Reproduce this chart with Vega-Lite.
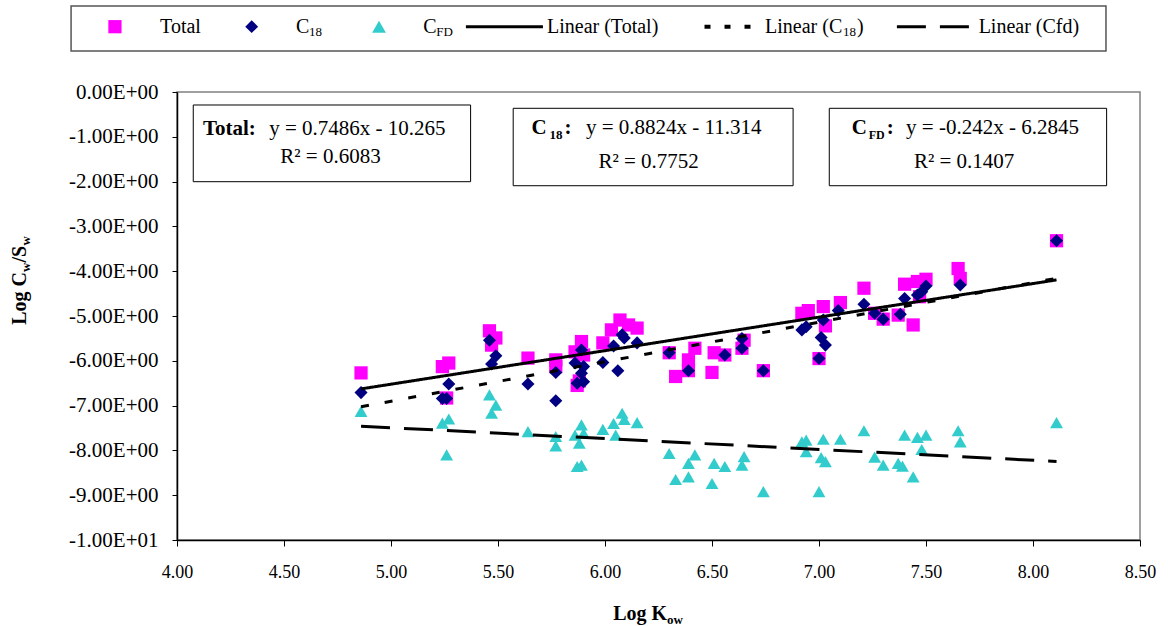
{
  "$schema": "https://vega.github.io/schema/vega-lite/v6.json",
  "width": 963,
  "height": 448,
  "autosize": {"type": "none"},
  "padding": {"left": 177, "top": 92, "right": 28, "bottom": 86},
  "background": "white",
  "config": {
    "view": {"stroke": "#808080", "strokeWidth": 1.5},
    "font": "Liberation Serif",
    "text": {"font": "Liberation Serif", "color": "black"}
  },
  "datasets": {
    "points": [
      {"series": "Total", "logKow": 4.86, "logCwSw": -6.27},
      {"series": "Total", "logKow": 5.24, "logCwSw": -6.13},
      {"series": "Total", "logKow": 5.27, "logCwSw": -6.05},
      {"series": "Total", "logKow": 5.26, "logCwSw": -6.83},
      {"series": "Total", "logKow": 5.46, "logCwSw": -5.33},
      {"series": "Total", "logKow": 5.49, "logCwSw": -5.49},
      {"series": "Total", "logKow": 5.47, "logCwSw": -5.65},
      {"series": "Total", "logKow": 5.64, "logCwSw": -5.94},
      {"series": "Total", "logKow": 5.77, "logCwSw": -5.98},
      {"series": "Total", "logKow": 5.77, "logCwSw": -6.13},
      {"series": "Total", "logKow": 5.86, "logCwSw": -5.80},
      {"series": "Total", "logKow": 5.89, "logCwSw": -5.57},
      {"series": "Total", "logKow": 5.90, "logCwSw": -5.87},
      {"series": "Total", "logKow": 5.88, "logCwSw": -6.45},
      {"series": "Total", "logKow": 5.87, "logCwSw": -6.55},
      {"series": "Total", "logKow": 5.99, "logCwSw": -5.60},
      {"series": "Total", "logKow": 6.03, "logCwSw": -5.31},
      {"series": "Total", "logKow": 6.07, "logCwSw": -5.09},
      {"series": "Total", "logKow": 6.11, "logCwSw": -5.20},
      {"series": "Total", "logKow": 6.15, "logCwSw": -5.27},
      {"series": "Total", "logKow": 6.30, "logCwSw": -5.82},
      {"series": "Total", "logKow": 6.33, "logCwSw": -6.35},
      {"series": "Total", "logKow": 6.39, "logCwSw": -5.98},
      {"series": "Total", "logKow": 6.42, "logCwSw": -5.72},
      {"series": "Total", "logKow": 6.39, "logCwSw": -6.22},
      {"series": "Total", "logKow": 6.50, "logCwSw": -6.26},
      {"series": "Total", "logKow": 6.51, "logCwSw": -5.82},
      {"series": "Total", "logKow": 6.56, "logCwSw": -5.87},
      {"series": "Total", "logKow": 6.64, "logCwSw": -5.72},
      {"series": "Total", "logKow": 6.65, "logCwSw": -5.54},
      {"series": "Total", "logKow": 6.74, "logCwSw": -6.22},
      {"series": "Total", "logKow": 6.92, "logCwSw": -4.94},
      {"series": "Total", "logKow": 6.95, "logCwSw": -4.88},
      {"series": "Total", "logKow": 7.02, "logCwSw": -4.79},
      {"series": "Total", "logKow": 7.10, "logCwSw": -4.70},
      {"series": "Total", "logKow": 7.03, "logCwSw": -5.22},
      {"series": "Total", "logKow": 7.00, "logCwSw": -5.95},
      {"series": "Total", "logKow": 7.21, "logCwSw": -4.38},
      {"series": "Total", "logKow": 7.26, "logCwSw": -4.94},
      {"series": "Total", "logKow": 7.30, "logCwSw": -5.07},
      {"series": "Total", "logKow": 7.40, "logCwSw": -4.29},
      {"series": "Total", "logKow": 7.37, "logCwSw": -4.98},
      {"series": "Total", "logKow": 7.44, "logCwSw": -5.20},
      {"series": "Total", "logKow": 7.46, "logCwSw": -4.23},
      {"series": "Total", "logKow": 7.50, "logCwSw": -4.18},
      {"series": "Total", "logKow": 7.47, "logCwSw": -4.57},
      {"series": "Total", "logKow": 7.65, "logCwSw": -3.94},
      {"series": "Total", "logKow": 7.66, "logCwSw": -4.16},
      {"series": "Total", "logKow": 8.11, "logCwSw": -3.32},

      {"series": "C18", "logKow": 4.86, "logCwSw": -6.71},
      {"series": "C18", "logKow": 5.27, "logCwSw": -6.52},
      {"series": "C18", "logKow": 5.24, "logCwSw": -6.84},
      {"series": "C18", "logKow": 5.26, "logCwSw": -6.84},
      {"series": "C18", "logKow": 5.46, "logCwSw": -5.54},
      {"series": "C18", "logKow": 5.49, "logCwSw": -5.89},
      {"series": "C18", "logKow": 5.47, "logCwSw": -6.07},
      {"series": "C18", "logKow": 5.64, "logCwSw": -6.52},
      {"series": "C18", "logKow": 5.77, "logCwSw": -6.26},
      {"series": "C18", "logKow": 5.77, "logCwSw": -6.89},
      {"series": "C18", "logKow": 5.86, "logCwSw": -6.05},
      {"series": "C18", "logKow": 5.89, "logCwSw": -5.76},
      {"series": "C18", "logKow": 5.90, "logCwSw": -6.13},
      {"series": "C18", "logKow": 5.89, "logCwSw": -6.28},
      {"series": "C18", "logKow": 5.87, "logCwSw": -6.50},
      {"series": "C18", "logKow": 5.90, "logCwSw": -6.47},
      {"series": "C18", "logKow": 5.99, "logCwSw": -6.04},
      {"series": "C18", "logKow": 6.04, "logCwSw": -5.67},
      {"series": "C18", "logKow": 6.08, "logCwSw": -5.42},
      {"series": "C18", "logKow": 6.06, "logCwSw": -6.22},
      {"series": "C18", "logKow": 6.09, "logCwSw": -5.49},
      {"series": "C18", "logKow": 6.15, "logCwSw": -5.60},
      {"series": "C18", "logKow": 6.30, "logCwSw": -5.82},
      {"series": "C18", "logKow": 6.39, "logCwSw": -6.22},
      {"series": "C18", "logKow": 6.56, "logCwSw": -5.87},
      {"series": "C18", "logKow": 6.64, "logCwSw": -5.72},
      {"series": "C18", "logKow": 6.64, "logCwSw": -5.50},
      {"series": "C18", "logKow": 6.74, "logCwSw": -6.22},
      {"series": "C18", "logKow": 6.92, "logCwSw": -5.31},
      {"series": "C18", "logKow": 6.94, "logCwSw": -5.24},
      {"series": "C18", "logKow": 7.02, "logCwSw": -5.09},
      {"series": "C18", "logKow": 7.09, "logCwSw": -4.88},
      {"series": "C18", "logKow": 7.01, "logCwSw": -5.48},
      {"series": "C18", "logKow": 7.03, "logCwSw": -5.65},
      {"series": "C18", "logKow": 7.00, "logCwSw": -5.95},
      {"series": "C18", "logKow": 7.21, "logCwSw": -4.74},
      {"series": "C18", "logKow": 7.26, "logCwSw": -4.94},
      {"series": "C18", "logKow": 7.30, "logCwSw": -5.07},
      {"series": "C18", "logKow": 7.40, "logCwSw": -4.61},
      {"series": "C18", "logKow": 7.38, "logCwSw": -4.96},
      {"series": "C18", "logKow": 7.46, "logCwSw": -4.53},
      {"series": "C18", "logKow": 7.48, "logCwSw": -4.46},
      {"series": "C18", "logKow": 7.50, "logCwSw": -4.33},
      {"series": "C18", "logKow": 7.66, "logCwSw": -4.31},
      {"series": "C18", "logKow": 8.11, "logCwSw": -3.32},

      {"series": "CFD", "logKow": 4.86, "logCwSw": -7.13},
      {"series": "CFD", "logKow": 5.24, "logCwSw": -7.39},
      {"series": "CFD", "logKow": 5.27, "logCwSw": -7.30},
      {"series": "CFD", "logKow": 5.26, "logCwSw": -8.10},
      {"series": "CFD", "logKow": 5.46, "logCwSw": -6.76},
      {"series": "CFD", "logKow": 5.49, "logCwSw": -6.99},
      {"series": "CFD", "logKow": 5.47, "logCwSw": -7.17},
      {"series": "CFD", "logKow": 5.64, "logCwSw": -7.58},
      {"series": "CFD", "logKow": 5.77, "logCwSw": -7.69},
      {"series": "CFD", "logKow": 5.77, "logCwSw": -7.90},
      {"series": "CFD", "logKow": 5.86, "logCwSw": -7.66},
      {"series": "CFD", "logKow": 5.89, "logCwSw": -7.43},
      {"series": "CFD", "logKow": 5.90, "logCwSw": -7.62},
      {"series": "CFD", "logKow": 5.88, "logCwSw": -7.84},
      {"series": "CFD", "logKow": 5.87, "logCwSw": -8.36},
      {"series": "CFD", "logKow": 5.89, "logCwSw": -8.33},
      {"series": "CFD", "logKow": 5.99, "logCwSw": -7.53},
      {"series": "CFD", "logKow": 6.04, "logCwSw": -7.40},
      {"series": "CFD", "logKow": 6.08, "logCwSw": -7.17},
      {"series": "CFD", "logKow": 6.09, "logCwSw": -7.31},
      {"series": "CFD", "logKow": 6.05, "logCwSw": -7.66},
      {"series": "CFD", "logKow": 6.15, "logCwSw": -7.38},
      {"series": "CFD", "logKow": 6.30, "logCwSw": -8.07},
      {"series": "CFD", "logKow": 6.33, "logCwSw": -8.65},
      {"series": "CFD", "logKow": 6.39, "logCwSw": -8.29},
      {"series": "CFD", "logKow": 6.42, "logCwSw": -8.10},
      {"series": "CFD", "logKow": 6.39, "logCwSw": -8.59},
      {"series": "CFD", "logKow": 6.50, "logCwSw": -8.74},
      {"series": "CFD", "logKow": 6.51, "logCwSw": -8.29},
      {"series": "CFD", "logKow": 6.56, "logCwSw": -8.36},
      {"series": "CFD", "logKow": 6.64, "logCwSw": -8.33},
      {"series": "CFD", "logKow": 6.65, "logCwSw": -8.14},
      {"series": "CFD", "logKow": 6.74, "logCwSw": -8.92},
      {"series": "CFD", "logKow": 6.92, "logCwSw": -7.81},
      {"series": "CFD", "logKow": 6.94, "logCwSw": -7.77},
      {"series": "CFD", "logKow": 6.94, "logCwSw": -8.03},
      {"series": "CFD", "logKow": 7.02, "logCwSw": -7.75},
      {"series": "CFD", "logKow": 7.10, "logCwSw": -7.75},
      {"series": "CFD", "logKow": 7.01, "logCwSw": -8.16},
      {"series": "CFD", "logKow": 7.03, "logCwSw": -8.25},
      {"series": "CFD", "logKow": 7.00, "logCwSw": -8.92},
      {"series": "CFD", "logKow": 7.21, "logCwSw": -7.56},
      {"series": "CFD", "logKow": 7.26, "logCwSw": -8.15},
      {"series": "CFD", "logKow": 7.30, "logCwSw": -8.33},
      {"series": "CFD", "logKow": 7.40, "logCwSw": -7.66},
      {"series": "CFD", "logKow": 7.37, "logCwSw": -8.29},
      {"series": "CFD", "logKow": 7.39, "logCwSw": -8.35},
      {"series": "CFD", "logKow": 7.44, "logCwSw": -8.59},
      {"series": "CFD", "logKow": 7.46, "logCwSw": -7.71},
      {"series": "CFD", "logKow": 7.50, "logCwSw": -7.66},
      {"series": "CFD", "logKow": 7.48, "logCwSw": -7.98},
      {"series": "CFD", "logKow": 7.65, "logCwSw": -7.56},
      {"series": "CFD", "logKow": 7.66, "logCwSw": -7.81},
      {"series": "CFD", "logKow": 8.11, "logCwSw": -7.38}
    ],
    "trends": [
      {"series": "Linear (Total)", "logKow": 4.86, "logCwSw": -6.627},
      {"series": "Linear (Total)", "logKow": 8.11, "logCwSw": -4.194},
      {"series": "Linear (C18)", "logKow": 4.86, "logCwSw": -7.026},
      {"series": "Linear (C18)", "logKow": 8.11, "logCwSw": -4.158},
      {"series": "Linear (Cfd)", "logKow": 4.86, "logCwSw": -7.460},
      {"series": "Linear (Cfd)", "logKow": 8.11, "logCwSw": -8.247}
    ]
  },
  "layer": [
    {
      "data": {"name": "points"},
      "mark": {"type": "point", "filled": true, "opacity": 1, "strokeWidth": 0},
      "encoding": {
        "x": {
          "field": "logKow", "type": "quantitative",
          "scale": {"domain": [4, 8.5], "nice": false, "zero": false},
          "axis": {
            "title": null, "grid": false,
            "values": [4, 4.5, 5, 5.5, 6, 6.5, 7, 7.5, 8, 8.5],
            "format": ".2f",
            "labelFont": "Liberation Serif", "labelFontSize": 18, "labelColor": "black",
            "tickColor": "black", "tickSize": 6, "domainColor": "black", "domainWidth": 1.5,
            "labelPadding": 17, "labelFlush": false, "labelOverlap": false
          }
        },
        "y": {
          "field": "logCwSw", "type": "quantitative",
          "scale": {"domain": [-10, 0], "nice": false, "zero": false},
          "axis": {
            "title": null, "grid": false,
            "values": [0, -1, -2, -3, -4, -5, -6, -7, -8, -9, -10],
            "labelExpr": "datum.value == 0 ? '0.00E+00' : (datum.value == -10 ? '-1.00E+01' : '-' + abs(datum.value) + '.00E+00')",
            "labelFont": "Liberation Serif", "labelFontSize": 21, "labelColor": "black",
            "tickColor": "black", "tickSize": 5, "domainColor": "black", "domainWidth": 1.5,
            "labelPadding": 14, "labelFlush": false, "labelOverlap": false
          }
        },
        "shape": {
          "field": "series", "type": "nominal",
          "scale": {"domain": ["Total", "C18", "CFD"], "range": ["square", "diamond", "triangle-up"]},
          "legend": null
        },
        "color": {
          "field": "series", "type": "nominal",
          "scale": {"domain": ["Total", "C18", "CFD"], "range": ["#FF00FF", "#000080", "#33CCCC"]},
          "legend": null
        },
        "size": {
          "field": "series", "type": "nominal",
          "scale": {"domain": ["Total", "C18", "CFD"], "range": [175, 165, 190]},
          "legend": null
        },
        "order": {"field": "series", "sort": "descending"}
      }
    },
    {
      "data": {"name": "trends"},
      "mark": {"type": "line", "color": "black", "strokeWidth": 3, "strokeCap": "butt"},
      "encoding": {
        "x": {"field": "logKow", "type": "quantitative"},
        "y": {"field": "logCwSw", "type": "quantitative"},
        "strokeDash": {
          "field": "series", "type": "nominal",
          "scale": {"domain": ["Linear (Total)", "Linear (C18)", "Linear (Cfd)"], "range": [[1, 0], [8, 16], [29, 14]]},
          "legend": null
        }
      }
    },

    {
      "data": {"values": [{}]},
      "mark": {"type": "rect", "fill": "white", "stroke": "#555555", "strokeWidth": 1.5},
      "encoding": {
        "x": {"datum": 3.505, "type": "quantitative"}, "x2": {"datum": 8.341},
        "y": {"datum": 1.92, "type": "quantitative"}, "y2": {"datum": 0.915}
      }
    },
    {
      "data": {"values": [{}]},
      "mark": {"type": "point", "shape": "square", "filled": true, "color": "#FF00FF", "size": 175, "opacity": 1},
      "encoding": {"x": {"datum": 3.71, "type": "quantitative"}, "y": {"datum": 1.458, "type": "quantitative"}}
    },
    {
      "data": {"values": [{}]},
      "mark": {"type": "point", "shape": "diamond", "filled": true, "color": "#000080", "size": 165, "opacity": 1},
      "encoding": {"x": {"datum": 4.349, "type": "quantitative"}, "y": {"datum": 1.458, "type": "quantitative"}}
    },
    {
      "data": {"values": [{}]},
      "mark": {"type": "point", "shape": "triangle-up", "filled": true, "color": "#33CCCC", "size": 190, "opacity": 1},
      "encoding": {"x": {"datum": 4.944, "type": "quantitative"}, "y": {"datum": 1.458, "type": "quantitative"}}
    },
    {
      "data": {"values": [{}]},
      "mark": {"type": "rule", "color": "black", "strokeWidth": 3},
      "encoding": {"x": {"datum": 5.35, "type": "quantitative"}, "x2": {"datum": 5.71}, "y": {"datum": 1.458, "type": "quantitative"}}
    },
    {
      "data": {"values": [{}]},
      "mark": {"type": "rule", "color": "black", "strokeWidth": 4, "strokeDash": [6, 14]},
      "encoding": {"x": {"datum": 6.465, "type": "quantitative"}, "x2": {"datum": 6.745}, "y": {"datum": 1.458, "type": "quantitative"}}
    },
    {
      "data": {"values": [{}]},
      "mark": {"type": "rule", "color": "black", "strokeWidth": 3, "strokeDash": [29, 14]},
      "encoding": {"x": {"datum": 7.364, "type": "quantitative"}, "x2": {"datum": 7.708}, "y": {"datum": 1.458, "type": "quantitative"}}
    },
    {
      "data": {"values": [{}]},
      "mark": {"type": "text", "text": "Total", "align": "left", "baseline": "alphabetic", "fontSize": 20},
      "encoding": {"x": {"datum": 3.921, "type": "quantitative"}, "y": {"datum": 1.324, "type": "quantitative"}}
    },
    {
      "data": {"values": [{}]},
      "mark": {"type": "text", "text": "C", "align": "left", "baseline": "alphabetic", "fontSize": 20},
      "encoding": {"x": {"datum": 4.556, "type": "quantitative"}, "y": {"datum": 1.324, "type": "quantitative"}}
    },
    {
      "data": {"values": [{}]},
      "mark": {"type": "text", "text": "18", "align": "left", "baseline": "alphabetic", "fontSize": 13, "dx": 13, "dy": 3},
      "encoding": {"x": {"datum": 4.556, "type": "quantitative"}, "y": {"datum": 1.324, "type": "quantitative"}}
    },
    {
      "data": {"values": [{}]},
      "mark": {"type": "text", "text": "C", "align": "left", "baseline": "alphabetic", "fontSize": 20},
      "encoding": {"x": {"datum": 5.151, "type": "quantitative"}, "y": {"datum": 1.324, "type": "quantitative"}}
    },
    {
      "data": {"values": [{}]},
      "mark": {"type": "text", "text": "FD", "align": "left", "baseline": "alphabetic", "fontSize": 13, "dx": 13, "dy": 3},
      "encoding": {"x": {"datum": 5.151, "type": "quantitative"}, "y": {"datum": 1.324, "type": "quantitative"}}
    },
    {
      "data": {"values": [{}]},
      "mark": {"type": "text", "text": "Linear (Total)", "align": "left", "baseline": "alphabetic", "fontSize": 20},
      "encoding": {"x": {"datum": 5.729, "type": "quantitative"}, "y": {"datum": 1.324, "type": "quantitative"}}
    },
    {
      "data": {"values": [{}]},
      "mark": {"type": "text", "text": "Linear (C", "align": "left", "baseline": "alphabetic", "fontSize": 20},
      "encoding": {"x": {"datum": 6.748, "type": "quantitative"}, "y": {"datum": 1.324, "type": "quantitative"}}
    },
    {
      "data": {"values": [{}]},
      "mark": {"type": "text", "text": "18", "align": "left", "baseline": "alphabetic", "fontSize": 13, "dx": 78, "dy": 3},
      "encoding": {"x": {"datum": 6.748, "type": "quantitative"}, "y": {"datum": 1.324, "type": "quantitative"}}
    },
    {
      "data": {"values": [{}]},
      "mark": {"type": "text", "text": ")", "align": "left", "baseline": "alphabetic", "fontSize": 20, "dx": 92},
      "encoding": {"x": {"datum": 6.748, "type": "quantitative"}, "y": {"datum": 1.324, "type": "quantitative"}}
    },
    {
      "data": {"values": [{}]},
      "mark": {"type": "text", "text": "Linear (Cfd)", "align": "left", "baseline": "alphabetic", "fontSize": 20},
      "encoding": {"x": {"datum": 7.746, "type": "quantitative"}, "y": {"datum": 1.324, "type": "quantitative"}}
    },

    {
      "data": {"values": [{}]},
      "mark": {"type": "rect", "fill": "white", "stroke": "black", "strokeWidth": 1},
      "encoding": {
        "x": {"datum": 4.076, "type": "quantitative"}, "x2": {"datum": 5.372},
        "y": {"datum": -0.29, "type": "quantitative"}, "y2": {"datum": -2.002}
      }
    },
    {
      "data": {"values": [{}]},
      "mark": {"type": "rect", "fill": "white", "stroke": "black", "strokeWidth": 1},
      "encoding": {
        "x": {"datum": 5.571, "type": "quantitative"}, "x2": {"datum": 6.879},
        "y": {"datum": -0.364, "type": "quantitative"}, "y2": {"datum": -2.092}
      }
    },
    {
      "data": {"values": [{}]},
      "mark": {"type": "rect", "fill": "white", "stroke": "black", "strokeWidth": 1},
      "encoding": {
        "x": {"datum": 7.048, "type": "quantitative"}, "x2": {"datum": 8.344},
        "y": {"datum": -0.364, "type": "quantitative"}, "y2": {"datum": -2.092}
      }
    },
    {
      "data": {"values": [{}]},
      "mark": {"type": "text", "text": "Total:", "align": "left", "baseline": "alphabetic", "fontSize": 21, "fontWeight": "bold"},
      "encoding": {"x": {"datum": 4.121, "type": "quantitative"}, "y": {"datum": -0.96, "type": "quantitative"}}
    },
    {
      "data": {"values": [{}]},
      "mark": {"type": "text", "text": "y = 0.7486x - 10.265", "align": "left", "baseline": "alphabetic", "fontSize": 21},
      "encoding": {"x": {"datum": 4.431, "type": "quantitative"}, "y": {"datum": -0.96, "type": "quantitative"}}
    },
    {
      "data": {"values": [{}]},
      "mark": {"type": "text", "text": "R² = 0.6083", "align": "center", "baseline": "alphabetic", "fontSize": 21},
      "encoding": {"x": {"datum": 4.717, "type": "quantitative"}, "y": {"datum": -1.578, "type": "quantitative"}}
    },
    {
      "data": {"values": [{}]},
      "mark": {"type": "text", "text": "C", "align": "left", "baseline": "alphabetic", "fontSize": 21, "fontWeight": "bold"},
      "encoding": {"x": {"datum": 5.657, "type": "quantitative"}, "y": {"datum": -0.944, "type": "quantitative"}}
    },
    {
      "data": {"values": [{}]},
      "mark": {"type": "text", "text": "18", "align": "left", "baseline": "alphabetic", "fontSize": 13, "fontWeight": "bold", "dx": 18, "dy": 5},
      "encoding": {"x": {"datum": 5.657, "type": "quantitative"}, "y": {"datum": -0.944, "type": "quantitative"}}
    },
    {
      "data": {"values": [{}]},
      "mark": {"type": "text", "text": ":", "align": "left", "baseline": "alphabetic", "fontSize": 21, "fontWeight": "bold", "dx": 33},
      "encoding": {"x": {"datum": 5.657, "type": "quantitative"}, "y": {"datum": -0.944, "type": "quantitative"}}
    },
    {
      "data": {"values": [{}]},
      "mark": {"type": "text", "text": "y = 0.8824x - 11.314", "align": "left", "baseline": "alphabetic", "fontSize": 21},
      "encoding": {"x": {"datum": 5.911, "type": "quantitative"}, "y": {"datum": -0.944, "type": "quantitative"}}
    },
    {
      "data": {"values": [{}]},
      "mark": {"type": "text", "text": "R² = 0.7752", "align": "center", "baseline": "alphabetic", "fontSize": 21},
      "encoding": {"x": {"datum": 6.204, "type": "quantitative"}, "y": {"datum": -1.69, "type": "quantitative"}}
    },
    {
      "data": {"values": [{}]},
      "mark": {"type": "text", "text": "C", "align": "left", "baseline": "alphabetic", "fontSize": 21, "fontWeight": "bold"},
      "encoding": {"x": {"datum": 7.153, "type": "quantitative"}, "y": {"datum": -0.944, "type": "quantitative"}}
    },
    {
      "data": {"values": [{}]},
      "mark": {"type": "text", "text": "FD", "align": "left", "baseline": "alphabetic", "fontSize": 12, "fontWeight": "bold", "dx": 17, "dy": 5},
      "encoding": {"x": {"datum": 7.153, "type": "quantitative"}, "y": {"datum": -0.944, "type": "quantitative"}}
    },
    {
      "data": {"values": [{}]},
      "mark": {"type": "text", "text": ":", "align": "left", "baseline": "alphabetic", "fontSize": 21, "fontWeight": "bold", "dx": 35},
      "encoding": {"x": {"datum": 7.153, "type": "quantitative"}, "y": {"datum": -0.944, "type": "quantitative"}}
    },
    {
      "data": {"values": [{}]},
      "mark": {"type": "text", "text": "y = -0.242x - 6.2845", "align": "left", "baseline": "alphabetic", "fontSize": 21},
      "encoding": {"x": {"datum": 7.407, "type": "quantitative"}, "y": {"datum": -0.944, "type": "quantitative"}}
    },
    {
      "data": {"values": [{}]},
      "mark": {"type": "text", "text": "R² = 0.1407", "align": "center", "baseline": "alphabetic", "fontSize": 21},
      "encoding": {"x": {"datum": 7.678, "type": "quantitative"}, "y": {"datum": -1.69, "type": "quantitative"}}
    },

    {
      "data": {"values": [{}]},
      "mark": {"type": "text", "text": "Log K", "align": "right", "baseline": "alphabetic", "fontSize": 20, "fontWeight": "bold"},
      "encoding": {"x": {"datum": 6.29, "type": "quantitative"}, "y": {"datum": -11.786, "type": "quantitative"}}
    },
    {
      "data": {"values": [{}]},
      "mark": {"type": "text", "text": "ow", "align": "left", "baseline": "alphabetic", "fontSize": 13, "fontWeight": "bold", "dy": 4},
      "encoding": {"x": {"datum": 6.29, "type": "quantitative"}, "y": {"datum": -11.786, "type": "quantitative"}}
    },
    {
      "data": {"values": [{}]},
      "mark": {"type": "text", "text": "Log C", "align": "right", "baseline": "alphabetic", "fontSize": 20, "fontWeight": "bold", "angle": 270},
      "encoding": {"x": {"datum": 3.294, "type": "quantitative"}, "y": {"datum": -4.018, "type": "quantitative"}}
    },
    {
      "data": {"values": [{}]},
      "mark": {"type": "text", "text": "w", "align": "left", "baseline": "alphabetic", "fontSize": 13, "fontWeight": "bold", "angle": 270, "dy": 4},
      "encoding": {"x": {"datum": 3.294, "type": "quantitative"}, "y": {"datum": -4.018, "type": "quantitative"}}
    },
    {
      "data": {"values": [{}]},
      "mark": {"type": "text", "text": "/S", "align": "left", "baseline": "alphabetic", "fontSize": 20, "fontWeight": "bold", "angle": 270, "dx": 9.5},
      "encoding": {"x": {"datum": 3.294, "type": "quantitative"}, "y": {"datum": -4.018, "type": "quantitative"}}
    },
    {
      "data": {"values": [{}]},
      "mark": {"type": "text", "text": "w", "align": "left", "baseline": "alphabetic", "fontSize": 13, "fontWeight": "bold", "angle": 270, "dx": 26.5, "dy": 4},
      "encoding": {"x": {"datum": 3.294, "type": "quantitative"}, "y": {"datum": -4.018, "type": "quantitative"}}
    }
  ]
}
